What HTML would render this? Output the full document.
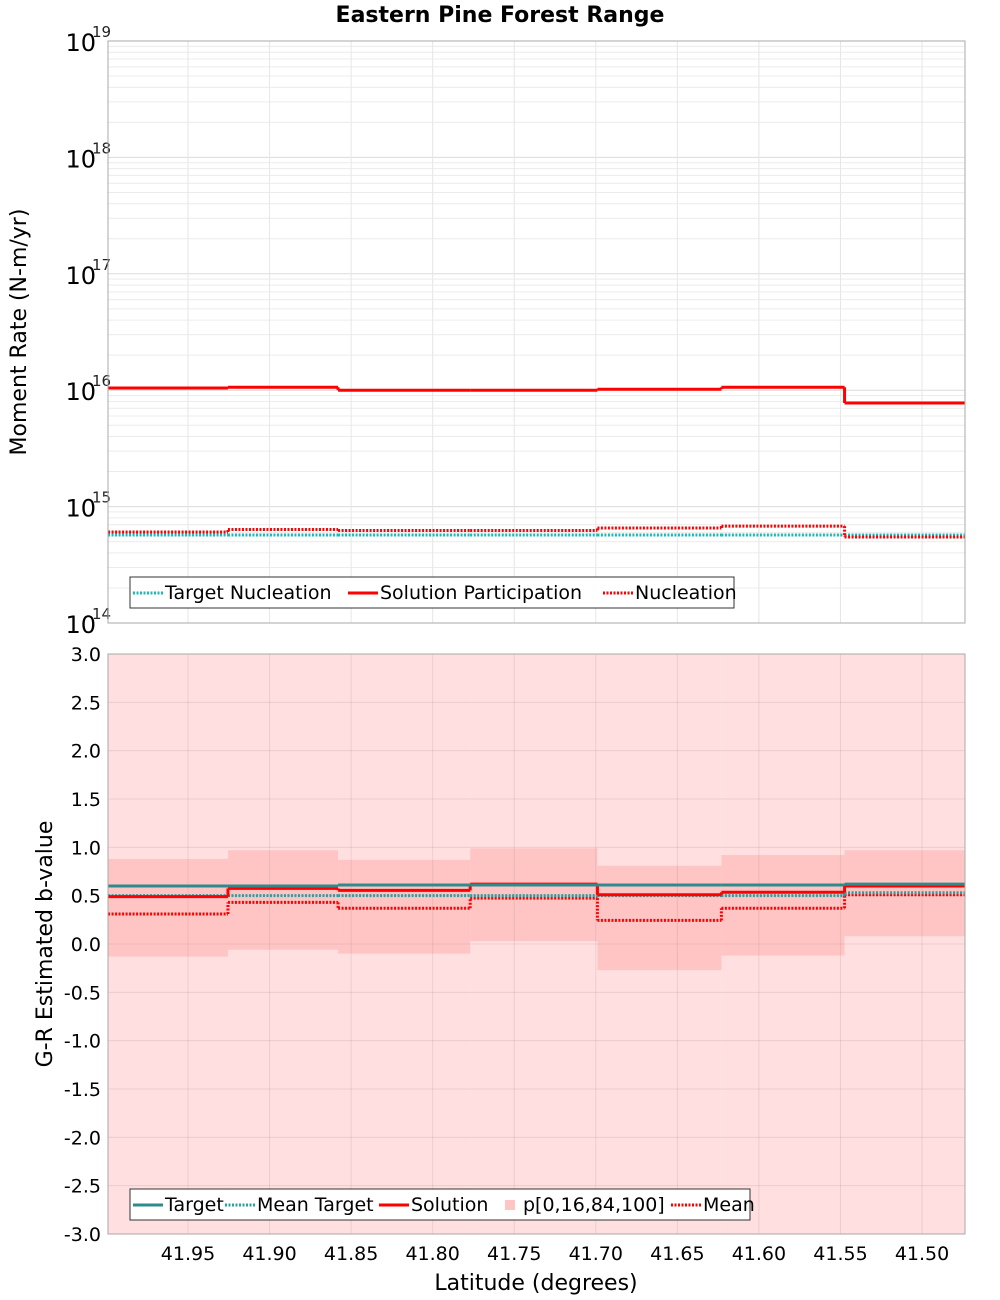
<!DOCTYPE html>
<html><head><meta charset="utf-8"><style>
body{margin:0;background:#fff;}
svg{display:block;font-family:"DejaVu Sans","Liberation Sans",sans-serif;}
</style></head><body>
<svg id="c" width="1000" height="1300" xmlns="http://www.w3.org/2000/svg">
<rect width="1000" height="1300" fill="#fff"/>
<text x="500" y="22" text-anchor="middle" font-weight="bold" font-size="22">Eastern Pine Forest Range</text>
<g id="topPanel"></g>
<g id="botPanel"></g>
</svg>
<script>
const binEdges=[41.999,41.9255,41.858,41.777,41.699,41.623,41.5475,41.4736];
const targetNucleation=[5.7e14,5.7e14,5.7e14,5.7e14,5.7e14,5.7e14,5.7e14];
const solutionParticipation=[1.045e16,1.06e16,1.0e16,1.0e16,1.02e16,1.06e16,7.77e15];
const nucleation=[6.05e14,6.36e14,6.24e14,6.24e14,6.55e14,6.8e14,5.48e14];
const bTarget=[0.60,0.60,0.61,0.61,0.61,0.61,0.62];
const bMeanTarget=[0.50,0.50,0.50,0.50,0.50,0.50,0.53];
const bSolution=[0.49,0.575,0.555,0.62,0.51,0.535,0.60];
const bMean=[0.31,0.43,0.37,0.475,0.245,0.37,0.51];
const bP16=[-0.13,-0.06,-0.10,0.03,-0.27,-0.12,0.08];
const bP84=[0.88,0.97,0.87,0.99,0.81,0.92,0.97];
const bP0=[-3,-3,-3,-3,-3,-3,-3];
const bP100=[3,3,3,3,3,3,3];
const xTicks=[41.95,41.90,41.85,41.80,41.75,41.70,41.65,41.60,41.55,41.50];
const logTicks=[14,15,16,17,18,19];
const bTicks=[-3,-2.5,-2,-1.5,-1,-0.5,0,0.5,1,1.5,2,2.5,3];

const NS="http://www.w3.org/2000/svg";
const L=108,R=965;
const X=v=>188+(41.95-v)/0.05*81.56;
const T0=41,T1=623,B0=654,B1=1234;
const YT=v=>T0+(19-Math.log10(v))*(T1-T0)/5;
const YB=v=>B0+(3-v)*(B1-B0)/6;
function mk(p,tag,at){const e=document.createElementNS(NS,tag);for(const k in at)e.setAttribute(k,at[k]);p.appendChild(e);return e;}
const topG=document.getElementById('topPanel'),botG=document.getElementById('botPanel');

mk(topG,'rect',{x:L,y:T0,width:R-L,height:T1-T0,fill:'#fff'});
for(let d=14;d<19;d++)for(let m=2;m<10;m++){const l=mk(topG,'line',{x1:L,x2:R,y1:YT(m*10**d),y2:YT(m*10**d),stroke:'#ececec'});

}
logTicks.forEach(t=>{const l=mk(topG,'line',{x1:L,x2:R,y1:YT(10**t),y2:YT(10**t),stroke:'#dcdcdc'});


const g=mk(topG,'text',{x:96,y:YT(10**t)+10,'text-anchor':'end','font-size':24});g.textContent='10';


const s=mk(topG,'text',{x:92,y:YT(10**t)-4,'font-size':15,fill:'#222'});s.textContent=String(t);

});
xTicks.forEach(t=>{const l=mk(topG,'line',{x1:X(t),x2:X(t),y1:T0,y2:T1,stroke:'#e6e6e6'});

});
function steps(p,arr,Y,attrs,name){for(let i=0;i<arr.length;i++){const l=mk(p,'line',Object.assign({x1:X(binEdges[i]),x2:X(binEdges[i+1]),y1:Y(arr[i]),y2:Y(arr[i])},attrs));


if(i>0){const v=mk(p,'line',Object.assign({x1:X(binEdges[i]),x2:X(binEdges[i]),y1:Y(arr[i-1]),y2:Y(arr[i])},attrs));

}}}
steps(topG,targetNucleation,YT,{stroke:'#1ab8b8','stroke-width':3,'stroke-dasharray':'2,1.5'},'target-nucleation-line');
steps(topG,nucleation,YT,{stroke:'#f00','stroke-width':3,'stroke-dasharray':'2,1.5'},'nucleation-line');
steps(topG,solutionParticipation,YT,{stroke:'#f00','stroke-width':3},'solution-participation-line');
mk(topG,'rect',{x:L,y:T0,width:R-L,height:T1-T0,fill:'none',stroke:'#aaa'});
const ytt=mk(topG,'text',{transform:'translate(26,332) rotate(-90)','text-anchor':'middle','font-size':22});ytt.textContent='Moment Rate (N-m/yr)';



function legend(p,x,y,w,items,name){const g=mk(p,'g',{});


mk(g,'rect',{x:x,y:y,width:w,height:31,fill:'#fff',stroke:'#333'});let cx=x+3;
items.forEach(it=>{const e=mk(g,'g',{});


if(it.sq){mk(e,'rect',{x:cx+14,y:y+11,width:10,height:10,fill:it.c});}
else mk(e,'line',{x1:cx,x2:cx+30,y1:y+16,y2:y+16,stroke:it.c,'stroke-width':3,'stroke-dasharray':it.d?'2,1.5':'none'});
const t=mk(e,'text',{x:cx+32,y:y+22,'font-size':19});t.textContent=it.t;cx+=32+it.w;});}
legend(topG,130,577,604,[{c:'#1ab8b8',d:1,t:'Target Nucleation',w:183},{c:'#f00',t:'Solution Participation',w:223},{c:'#f00',d:1,t:'Nucleation',w:120}],'top-legend');

mk(botG,'rect',{x:L,y:B0,width:R-L,height:B1-B0,fill:'#fff'});
for(let i=0;i<7;i++){const r=mk(botG,'rect',{x:X(binEdges[i]),width:X(binEdges[i+1])-X(binEdges[i]),y:YB(bP100[i]),height:YB(bP0[i])-YB(bP100[i]),fill:'#ffdfdf'});

}
for(let i=0;i<7;i++){const r=mk(botG,'rect',{x:X(binEdges[i]),width:X(binEdges[i+1])-X(binEdges[i]),y:YB(bP84[i]),height:YB(bP16[i])-YB(bP84[i]),fill:'#ffc5c5'});

}
bTicks.forEach(t=>{const l=mk(botG,'line',{x1:L,x2:R,y1:YB(t),y2:YB(t),stroke:'rgba(150,120,120,0.18)'});


const s=mk(botG,'text',{x:101,y:YB(t)+7,'text-anchor':'end','font-size':19});s.textContent=t.toFixed(1);

});
xTicks.forEach(t=>{const l=mk(botG,'line',{x1:X(t),x2:X(t),y1:B0,y2:B1,stroke:'rgba(150,120,120,0.18)'});


const s=mk(botG,'text',{x:X(t),y:1260,'text-anchor':'middle','font-size':19});s.textContent=t.toFixed(2);

});
steps(botG,bMean,YB,{stroke:'#f00','stroke-width':3,'stroke-dasharray':'2,1.5'},'mean-line');
steps(botG,bMeanTarget,YB,{stroke:'#2aa0a0','stroke-width':3,'stroke-dasharray':'2,1.5'},'mean-target-line');
steps(botG,bSolution,YB,{stroke:'#f00','stroke-width':3},'solution-line');
steps(botG,bTarget,YB,{stroke:'#2e8b8b','stroke-width':3},'target-line');
mk(botG,'rect',{x:L,y:B0,width:R-L,height:B1-B0,fill:'none',stroke:'#aaa'});
const yb=mk(botG,'text',{transform:'translate(52,944) rotate(-90)','text-anchor':'middle','font-size':22});yb.textContent='G-R Estimated b-value';


const xt=mk(botG,'text',{x:536,y:1290,'text-anchor':'middle','font-size':22});xt.textContent='Latitude (degrees)';


legend(botG,130,1189,620,[{c:'#2e8b8b',t:'Target',w:60},{c:'#2aa0a0',d:1,t:'Mean Target',w:122},{c:'#f00',t:'Solution',w:80},{c:'#ffc5c5',sq:1,t:'p[0,16,84,100]',w:148},{c:'#f00',d:1,t:'Mean',w:50}],'bottom-legend');
</script>
</body></html>
